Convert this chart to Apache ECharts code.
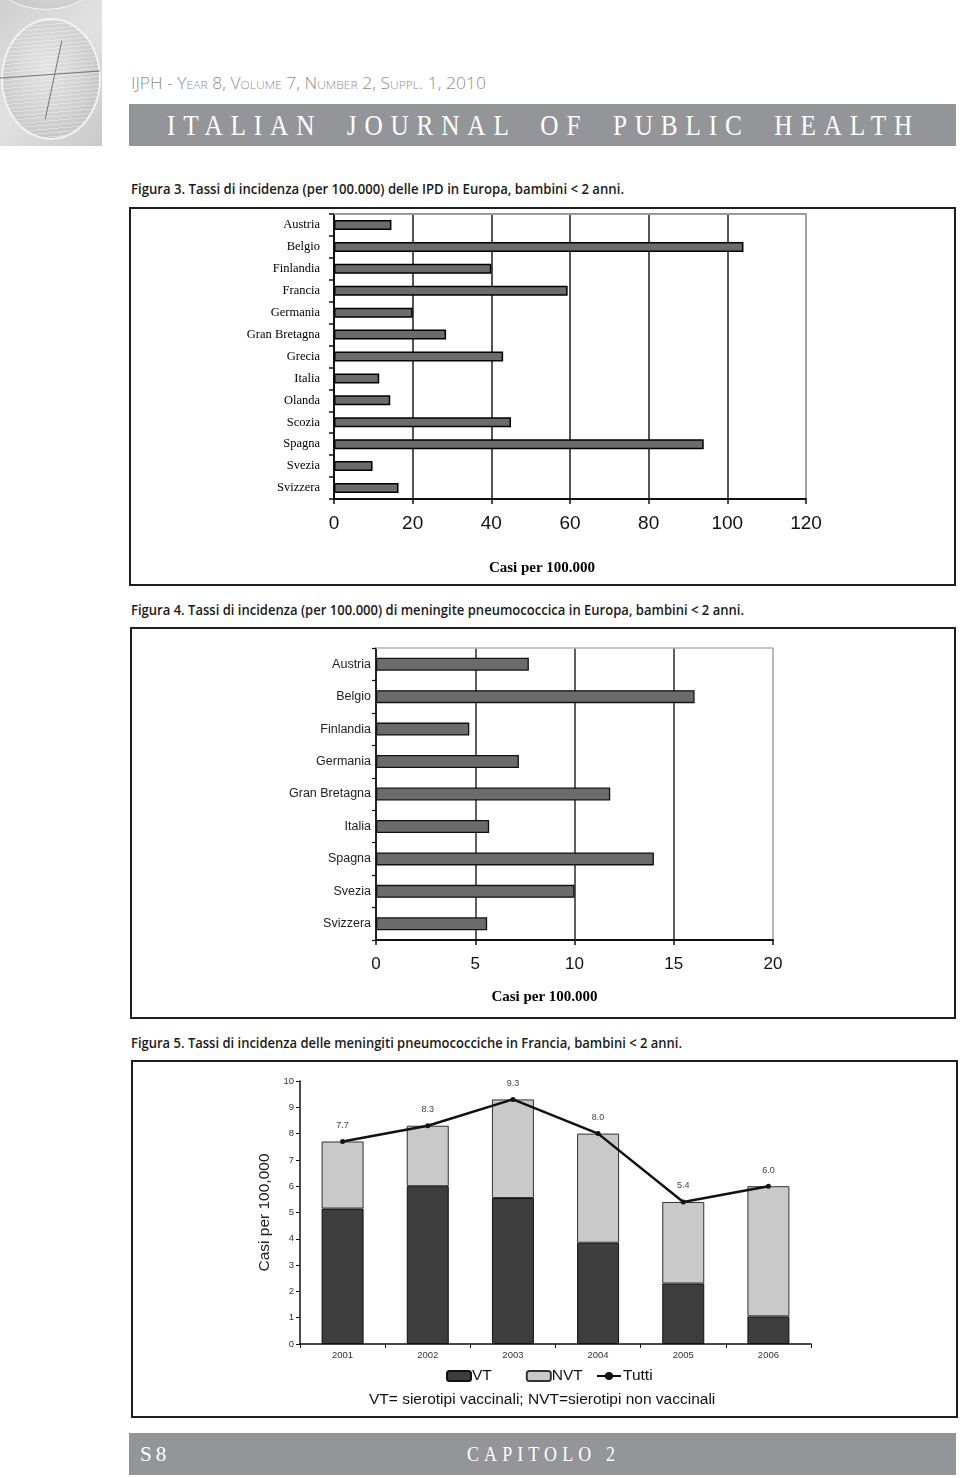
<!DOCTYPE html>
<html>
<head>
<meta charset="utf-8">
<script src="https://cdn.jsdelivr.net/npm/echarts@6/dist/echarts.min.js"></script>
<style>
  html, body { margin: 0; padding: 0; background: #fff; }
  body { width: 960px; height: 1478px; position: relative; overflow: hidden; font-family: "Open Sans", "Noto Sans", sans-serif; }
  .abs { position: absolute; white-space: nowrap; }
  #globe { left: 0; top: 0; width: 102px; height: 146px; overflow: hidden;
    background: linear-gradient(135deg, #cfcfcf 0%, #e2e2e2 50%, #c9c9c9 100%); }
  #globe .top { position: absolute; left: -10px; top: -70px; width: 110px; height: 78px; border-radius: 50%;
    border: 1px solid #f4f4f4; background: radial-gradient(circle at 60% 30%, #e8e8e8, #bdbdbd); }
  #globe .sph { position: absolute; left: 1px; top: 18px; width: 100px; height: 122px; border-radius: 50%;
    border: 2px solid #f2f2f2; box-sizing: border-box;
    background: repeating-linear-gradient(175deg, rgba(255,255,255,0.35) 0px, rgba(255,255,255,0.35) 1px, rgba(0,0,0,0) 1px, rgba(0,0,0,0) 4px),
                radial-gradient(ellipse at 45% 40%, #e4e4e4 0%, #cdcdcd 60%, #b9b9b9 100%); }
  #globe .ax1 { position: absolute; left: 0; top: 74px; width: 100px; height: 1px; background: #777; transform: rotate(-4deg); }
  #globe .ax2 { position: absolute; left: 53px; top: 40px; width: 1px; height: 80px; background: #777; transform: rotate(12deg); }
  #hdr { left: 131px; top: 72px; font-size: 16px; color: #8e8e8e; font-variant: small-caps; font-weight: 300; transform-origin: left center; }
  .band { left: 129px; width: 827px; height: 42px; background: #939598; }
  #band1 { top: 104px; }
  #band2 { top: 1433px; }
  #jtitle { left: 167px; top: 109px; font-family: "Liberation Serif", "DejaVu Serif", serif; font-size: 29px; color: #fff;
    letter-spacing: 9px; word-spacing: 12px; transform-origin: left center; }
  #s8 { left: 140px; top: 1442px; font-family: "Liberation Serif", serif; font-size: 21px; color: #fff; letter-spacing: 4px; }
  #cap2 { left: 467px; top: 1442px; font-family: "Liberation Serif", serif; font-size: 21px; color: #fff; letter-spacing: 6px; transform-origin: left center; }
  .cap { left: 131px; font-size: 15px; font-weight: 600; color: #1a1a1a; transform-origin: left center; }
  .frame { border: 2px solid #1e1e1e; box-sizing: border-box; }
  #chart { position: absolute; left: 0; top: 0; width: 960px; height: 1478px; }
</style>
</head>
<body>
<div id="globe" class="abs"><div class="top"></div><div class="sph"></div><div class="ax1"></div><div class="ax2"></div></div>
<div id="hdr" class="abs" data-w="355">IJPH - Year 8, Volume 7, Number 2, Suppl. 1, 2010</div>
<div id="band1" class="abs band"></div>
<div id="jtitle" class="abs" data-w="753">ITALIAN JOURNAL OF PUBLIC HEALTH</div>

<div class="abs cap" style="top:178px" data-w="493">Figura 3. Tassi di incidenza (per 100.000) delle IPD in Europa, bambini &lt; 2 anni.</div>
<div class="abs frame" style="left:129px;top:207px;width:827px;height:379px"></div>

<div class="abs cap" style="top:599px" data-w="613">Figura 4. Tassi di incidenza (per 100.000) di meningite pneumococcica in Europa, bambini &lt; 2 anni.</div>
<div class="abs frame" style="left:130px;top:627px;width:826px;height:392px"></div>

<div class="abs cap" style="top:1032px" data-w="551">Figura 5. Tassi di incidenza delle meningiti pneumococciche in Francia, bambini &lt; 2 anni.</div>
<div class="abs frame" style="left:131px;top:1060px;width:827px;height:358px"></div>

<div id="band2" class="abs band"></div>
<div id="s8" class="abs">S8</div>
<div id="cap2" class="abs" data-w="153">CAPITOLO 2</div>

<div id="chart"></div>
<script>
// ---------- DATA ----------
// Figura 3: IPD incidence per 100.000, children < 2 years
const fig3Countries = ['Austria','Belgio','Finlandia','Francia','Germania','Gran Bretagna','Grecia','Italia','Olanda','Scozia','Spagna','Svezia','Svizzera'];
const fig3Values = [14.6, 104.1, 40, 59.4, 20, 28.5, 43, 11.5, 14.3, 45, 94, 9.8, 16.4];
const fig3Ticks = [0, 20, 40, 60, 80, 100, 120];

// Figura 4: pneumococcal meningitis incidence per 100.000
const fig4Countries = ['Austria','Belgio','Finlandia','Germania','Gran Bretagna','Italia','Spagna','Svezia','Svizzera'];
const fig4Values = [7.7, 16.05, 4.7, 7.2, 11.8, 5.7, 14.0, 10.0, 5.6];
const fig4Ticks = [0, 5, 10, 15, 20];

// Figura 5: France, meningitis incidence by serotype group
const fig5Years = ['2001','2002','2003','2004','2005','2006'];
const fig5VT = [5.15, 6.0, 5.55, 3.85, 2.3, 1.05];
const fig5NVT = [2.55, 2.3, 3.75, 4.15, 3.1, 4.95];
const fig5Tutti = [7.7, 8.3, 9.3, 8.0, 5.4, 6.0];

// ---------- text fitting for page furniture ----------
document.querySelectorAll('[data-w]').forEach(function (el) {
  const w = el.getBoundingClientRect().width;
  const t = parseFloat(el.getAttribute('data-w'));
  el.style.transform = 'scaleX(' + (t / w) + ')';
});

const chart = echarts.init(document.getElementById('chart'), null, { renderer: 'canvas' });
const W = 960, H = 1478;
const serif = '"Liberation Serif", "Times New Roman", serif';
const arial = '"Liberation Sans", Arial, sans-serif';

function splitColors(n, last) {
  const a = [];
  for (let i = 0; i < n; i++) a.push(i === n - 1 ? last : '#2a2a2a');
  return a;
}

const option = {
  backgroundColor: 'transparent',
  animation: false,
  grid: [
    { left: 334, right: W - 806, top: 214, bottom: H - 499 },
    { left: 376, right: W - 773, top: 648, bottom: H - 940 },
    { left: 300, right: W - 811, top: 1081, bottom: H - 1344 }
  ],
  xAxis: [
    { gridIndex: 0, type: 'value', min: fig3Ticks[0], max: fig3Ticks[fig3Ticks.length - 1], interval: 20, position: 'bottom',
      axisLine: { show: true, lineStyle: { color: '#111', width: 2 } },
      axisTick: { show: true, length: 5, lineStyle: { color: '#111', width: 1.5 } },
      axisLabel: { fontFamily: arial, fontSize: 19, color: '#111', margin: 15 },
      splitLine: { show: true, lineStyle: { color: splitColors(fig3Ticks.length, '#8a8a8a'), width: 1.6 } },
      name: 'Casi per 100.000', nameLocation: 'middle', nameGap: 62,
      nameTextStyle: { fontFamily: serif, fontSize: 15, fontWeight: 'bold', color: '#000', padding: [0, 56, 0, 0] } },
    { gridIndex: 0, type: 'value', min: 0, max: 120, position: 'top',
      axisLine: { show: true, lineStyle: { color: '#9a9a9a', width: 2 } },
      axisTick: { show: false }, axisLabel: { show: false }, splitLine: { show: false } },
    { gridIndex: 1, type: 'value', min: fig4Ticks[0], max: fig4Ticks[fig4Ticks.length - 1], interval: 5, position: 'bottom',
      axisLine: { show: true, lineStyle: { color: '#111', width: 2 } },
      axisTick: { show: true, length: 5, lineStyle: { color: '#111', width: 1.5 } },
      axisLabel: { fontFamily: arial, fontSize: 17, color: '#111', margin: 16 },
      splitLine: { show: true, lineStyle: { color: splitColors(fig4Ticks.length, '#a0a0a0'), width: 1.5 } },
      name: 'Casi per 100.000', nameLocation: 'middle', nameGap: 50,
      nameTextStyle: { fontFamily: serif, fontSize: 15, fontWeight: 'bold', color: '#000', padding: [0, 60, 0, 0] } },
    { gridIndex: 1, type: 'value', min: 0, max: 20, position: 'top',
      axisLine: { show: true, lineStyle: { color: '#b4b4b4', width: 1.5 } },
      axisTick: { show: false }, axisLabel: { show: false }, splitLine: { show: false } },
    { gridIndex: 2, type: 'category', data: fig5Years, position: 'bottom',
      axisLine: { show: true, lineStyle: { color: '#111', width: 1.5 } },
      axisTick: { show: true, length: 4, lineStyle: { color: '#111' } },
      axisLabel: { fontFamily: arial, fontSize: 9.5, color: '#333', margin: 6 },
      splitLine: { show: false } }
  ],
  yAxis: [
    { gridIndex: 0, type: 'category', data: fig3Countries, inverse: true,
      axisLine: { show: true, lineStyle: { color: '#111', width: 2 } },
      axisTick: { show: true, length: 5, lineStyle: { color: '#111', width: 1.5 } },
      axisLabel: { fontFamily: serif, fontSize: 12.5, color: '#000', margin: 14 } },
    { gridIndex: 1, type: 'category', data: fig4Countries, inverse: true,
      axisLine: { show: true, lineStyle: { color: '#111', width: 1.5 } },
      axisTick: { show: true, length: 4, lineStyle: { color: '#111', width: 1.2 } },
      axisLabel: { fontFamily: arial, fontSize: 12.5, color: '#222', margin: 5 } },
    { gridIndex: 2, type: 'value', min: 0, max: 10, interval: 1,
      axisLine: { show: true, lineStyle: { color: '#111', width: 1.5 } },
      axisTick: { show: true, length: 4, lineStyle: { color: '#111' } },
      axisLabel: { fontFamily: arial, fontSize: 9.5, color: '#333', margin: 6 },
      splitLine: { show: false },
      name: 'Casi per 100,000', nameLocation: 'middle', nameRotate: 90, nameGap: 23,
      nameTextStyle: { fontFamily: arial, fontSize: 15.5, color: '#222' } }
  ],
  legend: [
    { data: ['VT', 'NVT'], left: 446, top: 1368, itemWidth: 24, itemHeight: 10, itemGap: 34, padding: 0,
      textStyle: { fontFamily: arial, fontSize: 15.5, color: '#111', padding: [0, 0, 0, -4] } },
    { data: ['Tutti'], left: 596, top: 1368, itemWidth: 24, itemHeight: 10, padding: 0,
      textStyle: { fontFamily: arial, fontSize: 15.5, color: '#111', padding: [0, 0, 0, -3] } }
  ],
  graphic: [
    { type: 'text', left: 369, top: 1392, z: 10,
      style: { text: 'VT= sierotipi vaccinali; NVT=sierotipi non vaccinali', font: '15.5px ' + arial, fill: '#111' } }
  ],
  series: [
    { type: 'bar', xAxisIndex: 0, yAxisIndex: 0, data: fig3Values, barWidth: 10,
      itemStyle: { color: '#6b6b6b', borderColor: '#000', borderWidth: 1.5 } },
    { type: 'bar', xAxisIndex: 2, yAxisIndex: 1, data: fig4Values, barWidth: 13,
      itemStyle: { color: '#6b6b6b', borderColor: '#111', borderWidth: 1.3 } },
    { name: 'VT', type: 'bar', xAxisIndex: 4, yAxisIndex: 2, stack: 'f5', data: fig5VT, barWidth: 42,
      itemStyle: { color: '#3d3d3d', borderColor: '#111', borderWidth: 1 } },
    { name: 'NVT', type: 'bar', xAxisIndex: 4, yAxisIndex: 2, stack: 'f5', data: fig5NVT, barWidth: 42,
      itemStyle: { color: '#c9c9c9', borderColor: '#333', borderWidth: 1 } },
    { name: 'Tutti', type: 'line', xAxisIndex: 4, yAxisIndex: 2, data: fig5Tutti,
      symbol: 'circle', symbolSize: 5, z: 5,
      lineStyle: { color: '#111', width: 2.5 }, itemStyle: { color: '#111' },
      label: { show: true, position: 'top', distance: 9, fontFamily: arial, fontSize: 9, color: '#444',
        formatter: function (p) { return Number(p.value).toFixed(1); } } }
  ]
};
chart.setOption(option);
</script>
</body>
</html>
